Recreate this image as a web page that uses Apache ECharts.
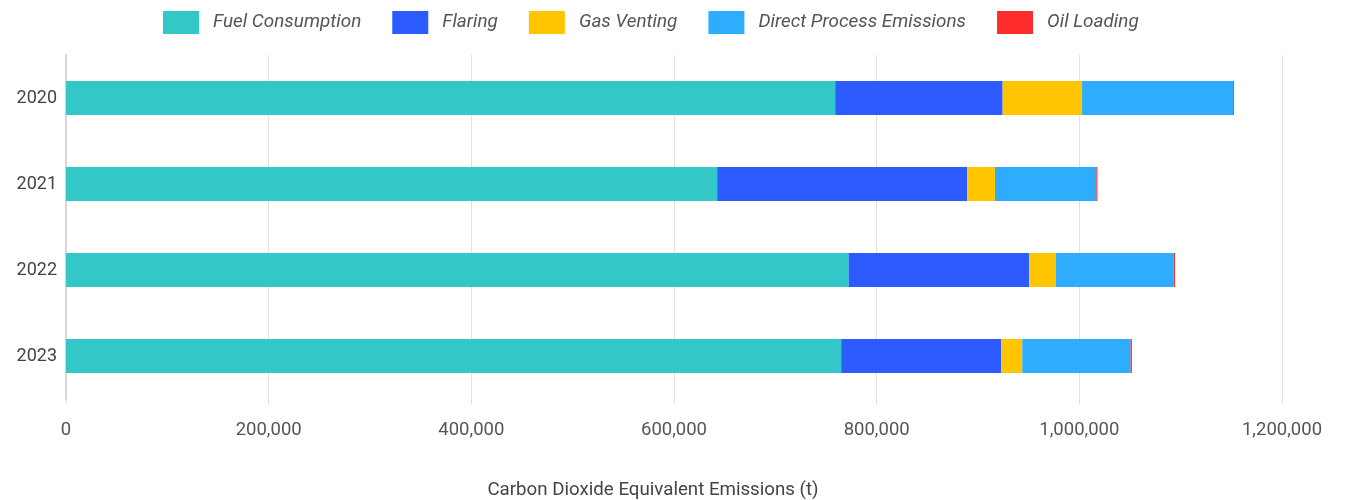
<!DOCTYPE html>
<html>
<head>
<meta charset="utf-8">
<script src="https://cdn.jsdelivr.net/npm/echarts@6/dist/echarts.min.js"></script>
<style>
  html, body { margin: 0; padding: 0; background: #fff; }
  #chart { width: 1346px; height: 500px; }
</style>
</head>
<body>
<div id="chart"></div>
<script>
// years on the category axis (top to bottom)
var years = ['2020', '2021', '2022', '2023'];

// emissions per source, tonnes CO2e
var fuelConsumption = [759100, 642600, 772300, 765000];
var flaring = [165200, 246800, 178300, 158000];
var gasVenting = [78400, 27400, 26400, 20700];
var directProcess = [149000, 100000, 116100, 106900];
var oilLoading = [900, 1100, 1300, 1300];

var seriesNames = ['Fuel Consumption', 'Flaring', 'Gas Venting', 'Direct Process Emissions', 'Oil Loading'];
var seriesColors = ['#33C7C7', '#2C5BFF', '#FFC600', '#2EADFF', '#FF2C2C'];
var seriesData = [fuelConsumption, flaring, gasVenting, directProcess, oilLoading];

var chart = echarts.init(document.getElementById('chart'));

var series = seriesNames.map(function (name, i) {
    return {
        name: name,
        type: 'bar',
        stack: 'total',
        barWidth: 34,
        itemStyle: { color: seriesColors[i] },
        data: seriesData[i]
    };
});

var option = {
    animation: false,
    textStyle: { fontFamily: 'Roboto' },
    legend: {
        top: 6,
        left: 158,
        itemWidth: 36,
        itemHeight: 23,
        itemGap: 31,
        icon: 'rect',
        textStyle: {
            fontSize: 18.9,
            fontStyle: 'italic',
            color: '#555',
            padding: [0, 0, 0, 9]
        },
        data: seriesNames
    },
    grid: {
        left: 66,
        right: 64,
        top: 55,
        bottom: 101,
        containLabel: false,
        outerBoundsMode: 'none'
    },
    xAxis: {
        type: 'value',
        min: 0,
        max: 1200000,
        interval: 200000,
        name: 'Carbon Dioxide Equivalent Emissions (t)',
        nameLocation: 'middle',
        nameGap: 82,
        nameTextStyle: { fontSize: 18.7, color: '#444', padding: [0, 42, 0, 0] },
        axisLine: { show: false },
        axisTick: { show: true, length: 5, lineStyle: { color: '#e0e0e0' } },
        axisLabel: {
            fontSize: 18.5,
            color: '#555',
            margin: 22,
            formatter: function (v) { return v.toLocaleString('en-US'); }
        },
        splitLine: { show: true, lineStyle: { color: '#e3e3e3' } }
    },
    yAxis: {
        type: 'category',
        inverse: true,
        data: years,
        axisLine: { show: true, lineStyle: { color: '#d6d6d6', width: 2 } },
        axisTick: { show: false },
        axisLabel: { fontSize: 18, color: '#444', margin: 9 }
    },
    series: series
};

chart.setOption(option);
</script>
</body>
</html>
